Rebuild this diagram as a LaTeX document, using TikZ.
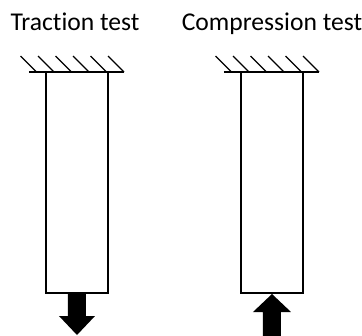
\documentclass[tikz,border=0pt]{standalone}
\usepackage{fontspec}
\setmainfont{Carlito}[Ligatures={NoCommon}]
\usepackage{tikz}

\begin{document}
\begin{tikzpicture}[x=0.75pt,y=0.75pt,yscale=-1,xscale=1]
\useasboundingbox (0,0) rectangle (362,336);

% Text Node
\node (traction) [anchor=base,inner sep=0.75pt,font=\fontsize{19.2}{23}\selectfont] at (75,30) {Traction test};
% Text Node
\node (compression) [anchor=base,inner sep=0.75pt,font=\fontsize{19.2}{23}\selectfont] at (272,30) {Compression test};

\foreach \dx in {0,195}{
%Straight Lines (ground)
\draw [line width=1.2pt]   (29+\dx,72) -- (124+\dx,72) ;
%Straight Lines (hatching)
\foreach \hx in {36.5,54,71.5,89,106.5,124}
  \draw [line width=0.9pt]   (\hx+\dx,72) -- (\hx+\dx-16,56) ;
%Shape: Rectangle
\draw [line width=1.5pt]   (46+\dx,72) -- (46+\dx,293) -- (108+\dx,293) -- (108+\dx,72) ;
}

%Shape: Down Arrow
\fill (68,294) -- (86,294) -- (86,316) -- (95,316) -- (77,335) -- (59,316) -- (68,316) -- cycle ;
%Shape: Up Arrow
\fill (272,294) -- (291,312) -- (281,312) -- (281,336) -- (263,336) -- (263,312) -- (253,312) -- cycle ;

\end{tikzpicture}
\end{document}
